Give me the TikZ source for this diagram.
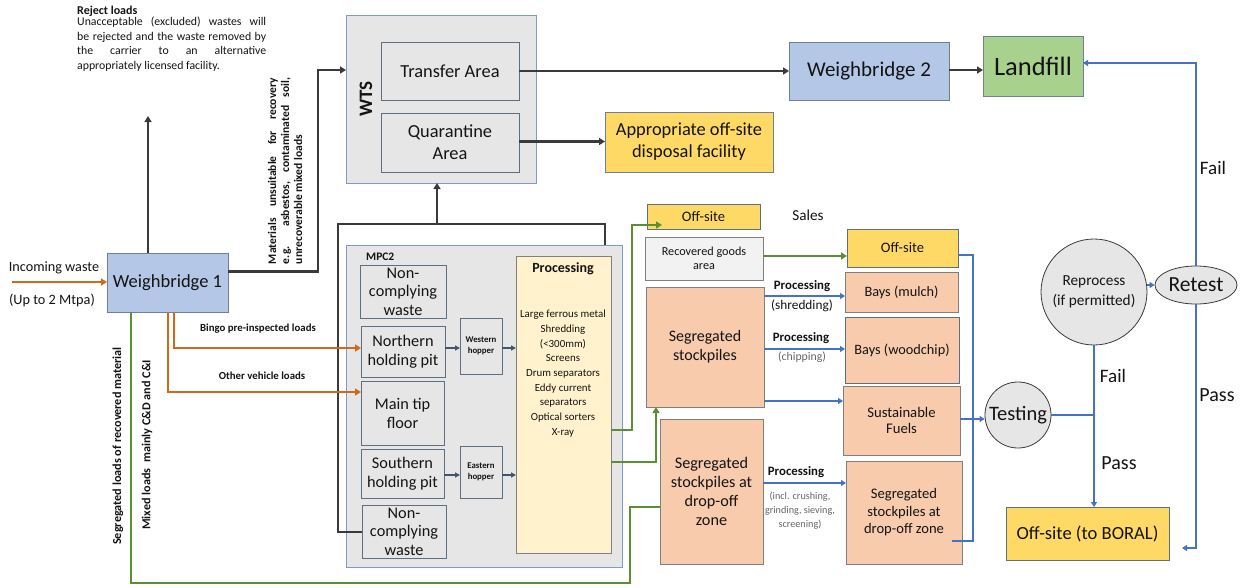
\documentclass[tikz,border=0pt]{standalone}
\usepackage{fontspec}
\setmainfont{Carlito}
\usetikzlibrary{arrows.meta,calc,shapes.geometric}
\definecolor{wbblue}{HTML}{B4C7E7}
\definecolor{wbline}{HTML}{6F7F96}
\definecolor{lgray}{HTML}{E7E6E6}
\definecolor{frameblue}{HTML}{7F9CC9}
\definecolor{innerline}{HTML}{5F6F82}
\definecolor{ylw}{HTML}{FFD966}
\definecolor{salmon}{HTML}{F8CBAD}
\definecolor{lfgreen}{HTML}{A9D18E}
\definecolor{procfill}{HTML}{FFF2CC}
\definecolor{orng}{HTML}{D0681E}
\definecolor{grn}{HTML}{5B8F31}
\definecolor{blu}{HTML}{4472C4}
\definecolor{dk}{HTML}{3A3A3A}
\definecolor{hop}{HTML}{44546A}
\definecolor{txt}{HTML}{141414}
\newcommand\fsz[1]{\pgfmathsetmacro\fszb{#1*1.2}\fontsize{#1}{\fszb}\selectfont}
\begin{document}
\begin{tikzpicture}[x=1pt,y=-1pt,
  box/.style={draw=innerline, line width=1pt, inner sep=0.5pt, outer sep=0pt, anchor=north west, align=center, text=txt},
  fs/.style={font={\fsz{#1}}},
  fb/.style 2 args={font={\fontsize{#1}{#2}\selectfont}},
  dkarrow/.style={draw=dk, line width=2.9pt, -{Triangle[length=6pt,width=7pt]}},
  orarrow/.style={draw=orng, line width=2.9pt, -{Triangle[length=6pt,width=7pt]}},
  grline/.style={draw=grn, line width=2.9pt},
  grarrow/.style={grline, -{Triangle[length=6pt,width=7pt]}},
  bluline/.style={draw=blu, line width=2.7pt},
  bluarrow/.style={bluline, -{Triangle[length=5pt,width=6pt]}},
  hoparrow/.style={draw=hop, line width=1.4pt, -{Triangle[length=5pt,width=5pt]}},
  lbl/.style={text=txt, inner sep=0pt}
]
\useasboundingbox[fill=white] (0,0) rectangle (1243,587);

% Reject loads
\node[lbl, anchor=west, align=left, font=\bfseries\fontsize{12}{14}\selectfont] (rejT) at (77,11) {Reject loads};
\node[lbl, anchor=north west, text width=189pt, align=justify, font=\fontsize{11.8}{14.5}\selectfont] (rejP) at (77,17)
 {Unacceptable (excluded) wastes will\linebreak be rejected and the waste removed by\linebreak the carrier to an alternative\linebreak appropriately licensed facility.};

% Weighbridge 1
\node[box, draw=wbline, fill=wbblue, minimum width=121pt, minimum height=59pt, fs=18.5] (wb1) at (107,253) {Weighbridge 1};
\node[lbl, fs=14.2] (inw) at (54,268) {Incoming waste};
\node[lbl, fs=14.3] (upto) at (52,300) {(Up to 2 Mtpa)};
\coordinate (instart) at (12,282);
\draw[orarrow] (instart) -- (instart -| wb1.west);

% reject arrow
\coordinate (rejtip) at (148,116);
\draw[dkarrow] (wb1.north -| rejtip) -- (rejtip);

% WTS
\node[box, draw=frameblue, fill=lgray, minimum width=190pt, minimum height=168pt] (wts) at (346,15) {};
\node[lbl, rotate=90, font=\bfseries\fontsize{19}{22}\selectfont] (wtsT) at (366,99) {WTS};
\node[box, fill=lgray, minimum width=138pt, minimum height=58pt, fs=18.4] (trans) at (381,42) {Transfer Area};
\node[box, fill=lgray, minimum width=138pt, minimum height=59pt, fb={18.4}{22}] (quar) at (381,113) {Quarantine\\Area};

\coordinate (c1) at (318,70);
\draw[dkarrow] ($(wb1.east)+(0,-11)$) -| (c1) -- (c1 -| wts.west);
\node[lbl, rotate=90, text width=186pt, align=justify, font=\bfseries\fontsize{11.6}{13}\selectfont] (mat) at (285,171)
 {Materials unsuitable for recovery\linebreak e.g. asbestos, contaminated soil,\linebreak unrecoverable mixed loads};

% Weighbridge 2, Landfill, Appropriate
\node[box, draw=wbline, fill=wbblue, minimum width=160pt, minimum height=58pt, fs=21] (wb2) at (789,42) {Weighbridge 2};
\node[box, draw=wbline, fill=lfgreen, minimum width=100pt, minimum height=60pt, fs=26.5] (land) at (983,36) {Landfill};
\node[box, draw=wbline, fill=ylw, minimum width=168pt, minimum height=60pt, fb={18.4}{22}] (app) at (605,112) {Appropriate off-site\\disposal facility};
\draw[dkarrow] (trans.east) -- (trans.east -| wb2.west);
\draw[dkarrow] ($(wb2.east)+(0,-1)$) -- ($(wb2.east -| land.west)+(0,-1)$);
\draw[dkarrow] ($(quar.east)+(0,-1)$) -- ($(quar.east -| app.west)+(0,-1)$);

% MPC2
\node[box, draw=frameblue, fill=lgray, minimum width=276pt, minimum height=322pt] (mpc) at (346,245) {};
\node[lbl, anchor=west, font=\bfseries\fontsize{11.5}{13}\selectfont] (mpcT) at (366,257) {MPC2};
\node[box, fill=lgray, minimum width=86pt, minimum height=53pt, fb={16.3}{18.5}] (nc1) at (360,265) {Non-\\complying\\waste};
\node[box, fill=lgray, minimum width=84pt, minimum height=51pt, fb={16.3}{19}] (north) at (361,326) {Northern\\holding pit};
\node[box, fill=lgray, minimum width=83pt, minimum height=64pt, fb={16.3}{19}] (main) at (361,381) {Main tip\\floor};
\node[box, fill=lgray, minimum width=83pt, minimum height=49pt, fb={16.3}{19}] (south) at (361,449) {Southern\\holding pit};
\node[box, fill=lgray, minimum width=84pt, minimum height=53pt, fb={16.3}{18.5}] (nc2) at (362,505) {Non-\\complying\\waste};
\node[box, fill=lgray, minimum width=42pt, minimum height=56pt, font=\bfseries\fontsize{8.8}{11}\selectfont] (west) at (460,318) {Western\\hopper};
\node[box, fill=lgray, minimum width=42pt, minimum height=52pt, font=\bfseries\fontsize{8.8}{11}\selectfont] (east) at (460,446) {Eastern\\hopper};
\node[box, draw=gray, fill=procfill, minimum width=95pt, minimum height=297pt] (proc) at (516,256) {};
\node[lbl, font=\bfseries\fontsize{14}{16}\selectfont] (procT) at (563,269) {Processing};
\node[lbl, anchor=north, align=center, font=\fontsize{10.9}{14.7}\selectfont] (procL) at (563,310)
 {Large ferrous metal\\Shredding\\(<300mm)\\Screens\\Drum separators\\Eddy current\\separators\\Optical sorters\\X-ray};

\draw[hoparrow] (north.east |- 0,348) -- (west.west |- 0,348);
\draw[hoparrow] (west.east |- 0,348) -- (proc.west |- 0,348);
\draw[hoparrow] (south.east |- 0,475) -- (east.west |- 0,475);
\draw[hoparrow] (east.east |- 0,475) -- (proc.west |- 0,475);

% dark route from non-complying waste to WTS
\coordinate (d1) at (338,532);
\coordinate (d2) at (338,224);
\coordinate (d3) at (605,224);
\coordinate (up1) at (437,224);
\draw[draw=dk, line width=2.9pt] (nc2.west |- d1) -- (d1) -- (d2) -- (d3) -- (d3 |- mpc.north);
\draw[dkarrow] (up1) -- (up1 |- wts.south);

% orange arrows
\draw[orarrow] ($(wb1.south)+(6.5,0)$) |- (north.west |- 0,348);
\draw[orarrow] ($(wb1.south)+(0.5,0)$) |- (main.west |- 0,392);
\node[lbl, font=\bfseries\fontsize{10.8}{12}\selectfont] (bingo) at (258,329) {Bingo pre-inspected loads};
\node[lbl, font=\bfseries\fontsize{10.8}{12}\selectfont] (other) at (262,376) {Other vehicle loads};

% green route to drop-off zone
\node[box, draw=gray, fill=salmon, minimum width=103pt, minimum height=145pt, fb={16.2}{19}] (segD) at (660,419) {Segregated\\stockpiles at\\drop-off\\zone};
\coordinate (g1) at (131,583);
\coordinate (g2) at (630,583);
\coordinate (g3) at (630,507);
\draw[grline] (wb1.south -| g1) -- (g1) -- (g2) -- (g3) -- (g3 -| segD.west);
\node[lbl, rotate=90, font=\bfseries\fontsize{12.2}{14}\selectfont] (segl) at (118,446) {Segregated loads of recovered material};
\node[lbl, rotate=90, font=\bfseries\fontsize{12.2}{14}\selectfont] (mixl) at (147,445) {Mixed loads\hspace{3pt} mainly C\&D and C\&I};

% right middle section
\node[box, draw=innerline, fill=ylw, minimum width=113pt, minimum height=25pt, fs=14.5] (offA) at (647,204) {Off-site};
\node[lbl, fs=15.2] (sales) at (808,215) {Sales};
\node[box, draw=gray, fill=white!95!black, minimum width=118pt, minimum height=43pt, fb={12.2}{14.5}] (rga) at (645,237) {Recovered goods\\area};
\node[box, draw=gray, fill=salmon, minimum width=118pt, minimum height=120pt, fb={16}{19}] (seg) at (646,287) {Segregated\\stockpiles};
\node[box, draw=innerline, fill=ylw, minimum width=111pt, minimum height=38pt, fs=14.5] (offB) at (847,229) {Off-site};
\node[box, draw=gray, fill=salmon, minimum width=113pt, minimum height=40pt, fs=14.3] (mulch) at (845,272) {Bays (mulch)};
\node[box, draw=innerline, fill=salmon, minimum width=114pt, minimum height=66pt, fs=14.3] (wood) at (845,317) {Bays (woodchip)};
\node[box, draw=gray, fill=salmon, minimum width=117pt, minimum height=69pt, fb={14.7}{16.5}] (fuel) at (843,386) {Sustainable\\Fuels};
\node[box, draw=gray, fill=salmon, minimum width=116pt, minimum height=103pt, fb={14.6}{17.5}] (segR) at (846,461) {Segregated\\stockpiles at\\drop-off zone};

% green from processing
\coordinate (p1) at (632,430);
\coordinate (p2) at (632,225);
\draw[grarrow] (proc.east |- p1) -- (p1) -- (p2) -- ($(offA.west |- p2)+(15,0)$);
\coordinate (p3) at (656,462);
\draw[grarrow] (proc.east |- p3) -- (p3) -- (p3 |- seg.south);
\draw[grarrow] (rga.east |- 0,256) -- (offB.west |- 0,256);

% blue processing arrows
\draw[bluarrow] (seg.east |- 0,296) -- (mulch.west |- 0,296);
\node[lbl, font=\bfseries\fontsize{12.8}{14}\selectfont] (pr1) at (802,286) {Processing};
\node[lbl, fs=13.3] (pr1b) at (802,306) {(shredding)};
\draw[bluarrow] (seg.east |- 0,349) -- (wood.west |- 0,349);
\node[lbl, font=\bfseries\fontsize{12.8}{14}\selectfont] (pr2) at (801,338) {Processing};
\node[lbl, text=gray!80!black, fs=11.8] (pr2b) at (802,357) {(chipping)};
\draw[bluarrow] (seg.east |- 0,401) -- (fuel.west |- 0,401);
\draw[bluarrow] (segD.east |- 0,483) -- (segR.west |- 0,483);
\node[lbl, font=\bfseries\fontsize{12.8}{14}\selectfont] (pr3) at (796,472) {Processing};
\node[lbl, text=gray!80!black, align=center, font=\fontsize{10.2}{14}\selectfont] (pr3b) at (800,511) {(incl. crushing,\\grinding, sieving,\\screening)};

% testing section
\node[circle, draw=dk, line width=0.8pt, fill=lgray, minimum size=66pt, inner sep=0pt, text=txt, fs=20.5] (test) at (1018,415) {Testing};
\node[circle, draw=dk, line width=0.8pt, fill=lgray, minimum size=106pt, inner sep=0pt, text=txt, align=center, fb={15.3}{19.5}] (rep) at (1094,292) {Reprocess\\(if permitted)};
\node[ellipse, draw=dk, line width=0.8pt, fill=lgray, minimum width=82pt, minimum height=38pt, inner sep=0pt, text=txt, fs=21.5] (retest) at (1196,285) {Retest};
\node[box, draw=innerline, fill=ylw, minimum width=163pt, minimum height=53pt, fs=18.6] (boral) at (1006,507) {Off-site (to BORAL)};

\coordinate (b1) at (973,255);
\coordinate (b2) at (973,541);
\draw[bluline] (offB.east |- b1) -- (b1) -- (b2) -- ($(segR.east |- b2)+(-10,0)$);
\draw[bluarrow] (fuel.east |- 0,419) -- (test.west |- 0,419);
\coordinate (jn) at (1093,415);
\draw[bluline] (test.east) -- (jn);
\draw[bluarrow] (rep.south) -- (rep.south |- boral.north);
\draw[bluarrow, line width=1.6pt] (rep.east |- retest.west) -- (retest.west);
\coordinate (r1) at (1196,63);
\coordinate (r2) at (1196,548);
\coordinate (r3) at (1182,548);
\draw[bluarrow] (retest.north) -- (r1) -- (r1 -| land.east);
\draw[bluarrow] (retest.south) -- (r2) -- (r3);
\node[lbl, fs=19] (fail1) at (1213,168) {Fail};
\node[lbl, fs=20] (pass1) at (1217,395) {Pass};
\node[lbl, fs=19] (fail2) at (1113,376) {Fail};
\node[lbl, fs=20] (pass2) at (1119,463) {Pass};
\end{tikzpicture}
\end{document}
